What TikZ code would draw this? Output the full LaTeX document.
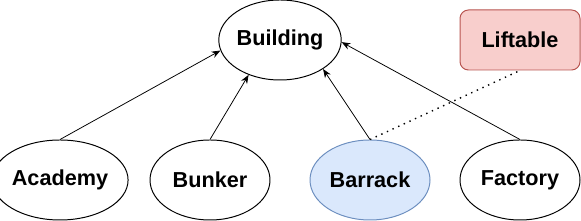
\documentclass[tikz,border=0pt]{standalone}
\usepackage{fontspec}
\setmainfont{Liberation Sans}
\usetikzlibrary{arrows.meta, shapes.geometric}
\definecolor{barrackfill}{HTML}{DAE8FC}
\definecolor{barrackline}{HTML}{6C8EBF}
\definecolor{liftfill}{HTML}{F8CECC}
\definecolor{liftline}{HTML}{B85450}

\begin{document}
\begin{tikzpicture}[
    every node/.style={ellipse, draw, line width=0.7pt, inner sep=0pt,
        minimum width=3cm, minimum height=2cm,
        font=\fontsize{15.4}{18}\selectfont\bfseries},
    every edge/.style={draw, -{Stealth[length=2.2mm, width=1.7mm]}, line width=0.55pt},
    subclass/.style={fill=barrackfill, draw=barrackline},
    iface/.style={rectangle, rounded corners=6pt, minimum height=1.5cm,
        fill=liftfill, draw=liftline}
]
\useasboundingbox (0,0) rectangle (14.525,5.525);
\node[minimum width=2.95cm] (building) at (7, 4.525) {Building};
\node[iface] (liftable) at (13, 4.525) {Liftable};
\node (academy) at (1.5, 1.025) {Academy};
\node (bunker) at (5.25, 1.025) {Bunker};
\node[subclass] (barrack) at (9.25, 1.025) {Barrack};
\node (factory) at (13, 1.025) {Factory};
\draw (academy.north) edge (building.190);
\draw (bunker.north) edge (building.228);
\draw (barrack.north) edge (building.326);
\draw (factory.north) edge (building.358);
\draw[line width=1pt, dash pattern=on 1pt off 3.4pt] (barrack.north) -- (liftable.south);
\end{tikzpicture}
\end{document}
